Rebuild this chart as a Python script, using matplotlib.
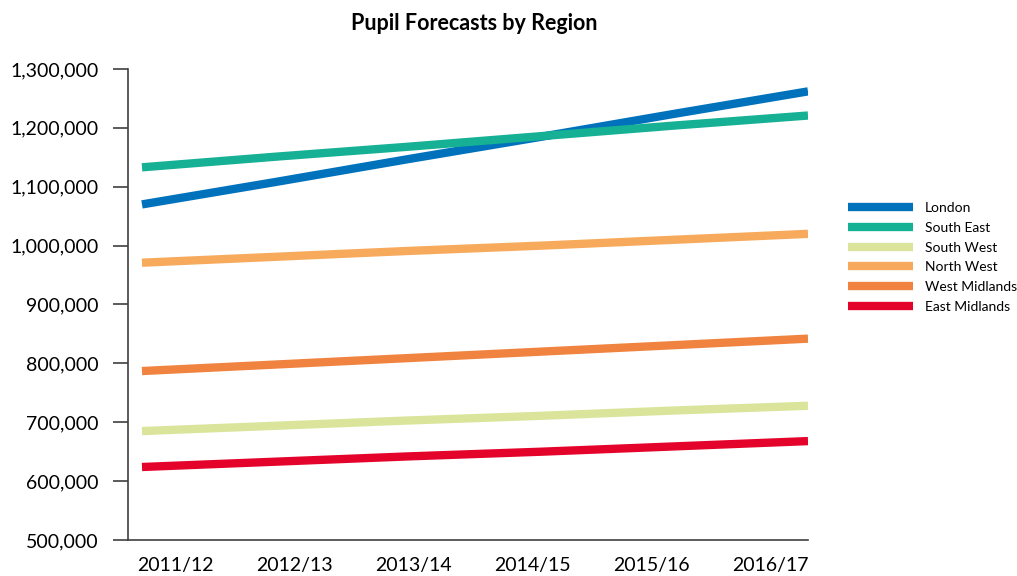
import numpy as np
import matplotlib
matplotlib.use("Agg")
import matplotlib.pyplot as plt
from matplotlib.ticker import FuncFormatter

plt.rcParams['font.family'] = ['Lato', 'DejaVu Sans']

years = ["2011/12", "2012/13", "2013/14", "2014/15", "2015/16", "2016/17"]
regions = ["London", "South East", "South West", "North West", "West Midlands", "East Midlands"]
colors = ["#0072BC", "#16B094", "#DAE59B", "#F7AA5B", "#F0833F", "#E4032B"]

london = [1070000, 1108000, 1147000, 1185000, 1224000, 1262000]
south_east = [1133000, 1151000, 1168000, 1186000, 1204000, 1221000]
south_west = [685000, 694000, 703000, 711000, 720000, 728000]
north_west = [971000, 981000, 991000, 1000000, 1010000, 1020000]
west_midlands = [787000, 798000, 809000, 820000, 831000, 842000]
east_midlands = [624000, 633000, 642000, 650000, 659000, 668000]

series = [london, south_east, south_west, north_west, west_midlands, east_midlands]

fig = plt.figure(figsize=(10.17, 5.76), dpi=100)
ax = fig.add_axes([128 / 1017, 1 - 540 / 576, 680 / 1017, 471 / 576])

x = np.arange(len(years))
for vals, name, c in zip(series, regions, colors):
    ax.plot(x, vals, color=c, lw=6, solid_capstyle="butt", label=name)

ax.set_xlim(-0.105, 5)
ax.set_ylim(500000, 1300000)
ax.set_yticks(np.arange(500000, 1300001, 100000))
ax.yaxis.set_major_formatter(FuncFormatter(lambda v, p: f"{int(v):,}"))
ax.set_xticks(np.linspace(0.25, 4.715, len(years)))
ax.set_xticklabels(years)

for s in ["top", "right"]:
    ax.spines[s].set_visible(False)
for s in ["left", "bottom"]:
    ax.spines[s].set_color("#404040")
    ax.spines[s].set_linewidth(1.2)
ax.tick_params(axis="y", length=11, width=1.2, color="#404040", pad=10, labelsize=14)
ax.tick_params(axis="x", length=0, pad=12, labelsize=14)

fig.text(0.466, 0.96, "Pupil Forecasts by Region", ha="center", va="center",
         fontsize=15.5, fontweight="bold")

fig.legend(loc="upper left", bbox_to_anchor=(848 / 1017, 1 - 202 / 576),
           frameon=False, fontsize=10, handlelength=4.7, handletextpad=0.85,
           labelspacing=0.56, borderpad=0, borderaxespad=0)

fig.savefig("out.png", dpi=100)
